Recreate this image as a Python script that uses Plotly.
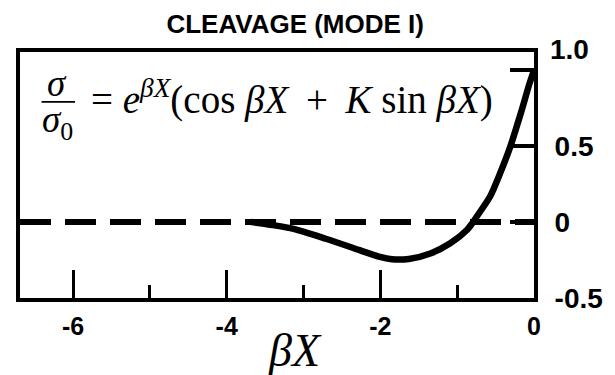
import plotly.graph_objects as go

# Normalised stress profile ahead of the crack tip
beta_x = [-3.68, -3.40, -3.13, -2.71, -2.27, -2.02, -1.85, -1.63, -1.34,
          -1.09, -0.87, -0.80, -0.74, -0.57, -0.45, -0.32, -0.17, -0.06, 0.0]
stress_ratio = [0.0, -0.02, -0.045, -0.11, -0.185, -0.228, -0.245, -0.243, -0.205,
                -0.14, -0.05, -0.005, 0.04, 0.17, 0.31, 0.48, 0.72, 0.91, 1.0]

# Axis ticks
x_major = [-6, -4, -2, 0]
x_major_text = ["-6", "-4", "-2", "0"]
x_minor = [-5, -3, -1]
y_ticks = [-0.5, 0, 0.5, 1.0]
y_tick_text = ["-0.5", "0", "0.5", " "]
y_top_text = "1.0"

NB = "\u00a0"
THIN = "\u2009"
title_text = "CLEAVAGE (MODE I)"
x_title = "<i>βX</i>"
formula_num = "<i>σ</i>"
formula_den = "<i>σ</i><sub>0</sub>"
formula_rhs = ("=" + NB + "<i>e</i><sup><i>βX</i></sup>(cos" + NB + "<i>βX</i>"
               + NB + THIN + "+" + NB + THIN + "<i>K</i>" + NB + "sin" + NB + "<i>βX</i>)")

SANS = "Liberation Sans, Arial, sans-serif"
SERIF = "Liberation Serif, Times New Roman, serif"

fig = go.Figure()

fig.add_trace(go.Scatter(
    x=beta_x, y=stress_ratio, mode="lines",
    line=dict(color="black", width=6.5, shape="spline", smoothing=0.8),
    hoverinfo="skip",
))

# dashed zero line across the frame
fig.add_hline(y=0, line=dict(color="black", width=6, dash="31px,14px"))

fig.update_layout(
    width=615, height=375,
    margin=dict(l=20, r=72, t=52, b=77),
    paper_bgcolor="white", plot_bgcolor="white",
    showlegend=False,
    title=dict(
        text=title_text, x=0.48, xref="container", xanchor="center",
        y=1 - 24 / 375, yref="container", yanchor="middle",
        font=dict(family=SANS, size=26, color="black", weight="bold"),
    ),
    xaxis=dict(
        range=[-6.69, 0], tickmode="array", tickvals=x_major, ticktext=x_major_text,
        ticks="inside", ticklen=28, tickwidth=3, tickcolor="black",
        showline=True, linewidth=4, linecolor="black", mirror=True,
        showgrid=False, zeroline=False, ticklabelstandoff=3,
        tickfont=dict(family=SANS, size=25, color="black", weight="bold"),
        minor=dict(tickvals=x_minor, ticks="inside", ticklen=13, tickwidth=3,
                   tickcolor="black", showgrid=False),
    ),
    yaxis=dict(
        side="right", range=[-0.5, 1.12], tickmode="array",
        tickvals=y_ticks, ticktext=y_tick_text,
        ticks="inside", ticklen=24, tickwidth=4, tickcolor="black",
        showline=True, linewidth=4, linecolor="black", mirror=True,
        showgrid=False, zeroline=False, ticklabelstandoff=11,
        tickfont=dict(family=SANS, size=28, color="black", weight="bold"),
    ),
)

annotations = [
    dict(text=y_top_text, xref="paper", yref="paper", x=1, y=1, xanchor="left",
         yanchor="middle", xshift=14, yshift=3, showarrow=False,
         font=dict(family=SANS, size=28, color="black", weight="bold")),
    dict(text=x_title, xref="paper", yref="paper", x=0.535, y=-0.215,
         xanchor="center", yanchor="middle", showarrow=False,
         font=dict(family=SERIF, size=46, color="black")),
    dict(text=formula_num, xref="paper", yref="paper", x=0.0727, y=0.872,
         xanchor="center", yanchor="middle", showarrow=False,
         font=dict(family=SERIF, size=37, color="black")),
    dict(text=formula_den, xref="paper", yref="paper", x=0.0727, y=0.715,
         xanchor="center", yanchor="middle", showarrow=False,
         font=dict(family=SERIF, size=37, color="black")),
    dict(text=formula_rhs, xref="paper", yref="paper", x=0.134, y=0.815,
         xanchor="left", yanchor="middle", showarrow=False,
         font=dict(family=SERIF, size=39, color="black")),
]
fig.update_layout(annotations=annotations)

# fraction bar of sigma / sigma_0
fig.add_shape(type="line", xref="paper", yref="paper",
              x0=0.042, x1=0.107, y0=0.797, y1=0.797,
              line=dict(color="black", width=1.8))

fig.write_html("out.html")
